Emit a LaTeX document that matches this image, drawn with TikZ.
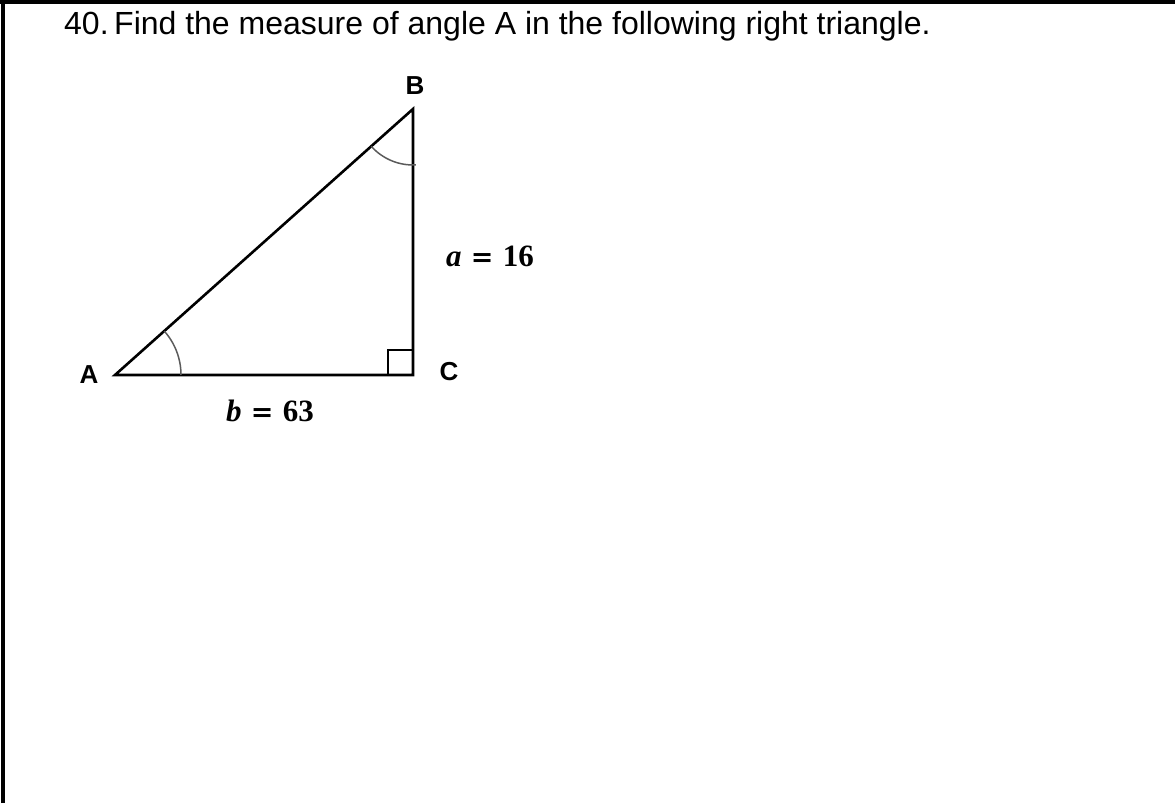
\documentclass[tikz,border=0pt]{standalone}
\usepackage{fontspec}
\setmainfont{Liberation Sans}
\newfontfamily\sidefont{Liberation Serif}
\newfontfamily\eqfont{DejaVu Serif}
\usepackage{xcolor}
\usepackage{tikz}
\usetikzlibrary{positioning}
\definecolor{markgray}{HTML}{5A5A5A}
\newcommand{\sidelen}[2]{{\itshape #1}\hspace{0.3em}{\eqfont\fontsize{27}{30}\selectfont=}\hspace{0.3em}#2}

\begin{document}
\begin{tikzpicture}[
        x=1pt, y=1pt,
        frame/.style={line width=3.2pt, black},
        side/.style={line width=2.6pt, black, line join=miter},
        anglemark/.style={line width=1.5pt, markgray},
        vertex/.style={font=\fontsize{26}{30}\selectfont\bfseries, inner sep=0pt},
        length/.style={font=\fontsize{31}{34}\selectfont\sidefont\bfseries, inner sep=0pt},
        question/.style={font=\fontsize{32}{38}\selectfont, inner sep=0pt, anchor=base west}
    ]
        \useasboundingbox (0,0) rectangle (1175,803);
        \draw[frame] (0,801) -- (1175,801);
        \draw[frame] (3,0) -- (3,803);

        \node[question] (num) at (64,768) {40.};
        \node[question] (task) at (114,768) {Find the measure of angle A in the following right triangle.};

        \coordinate (A) at (115,428);
        \coordinate (B) at (413,694);
        \coordinate (C) at (413,428);

        \draw[side] (A) -- (B) -- (C) -- cycle;
        \draw[side] ([xshift=-25pt]C) -- ++(0,25) -- ++(25,0);

        \draw[anglemark] ([shift={(0:66)}]A) arc[start angle=0, end angle=41.76, radius=66];
        \draw[anglemark] ([shift={(221.76:56)}]B) arc[start angle=221.76, end angle=273, radius=56];

        \node[vertex] (labA) at (89,428) {A};
        \node[vertex] (labB) at (415,717) {B};
        \node[vertex] (labC) at (449,431) {C};

        \node[length] (sidea) at (490,547) {\sidelen{a}{16}};
        \node[length] (sideb) at (270,392) {\sidelen{b}{63}};
    \end{tikzpicture}
\end{document}
